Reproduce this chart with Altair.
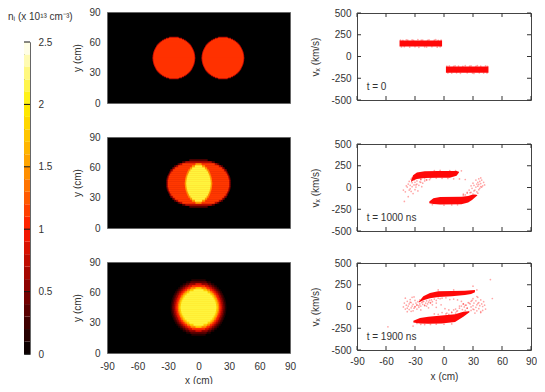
import altair as alt
import pandas as pd

FONT = "Liberation Sans"
TXT = "#333333"

# ---------- colour bar ----------
bar_edges = [0, .1, .2, .3, .4, .5, .6, .7, .8, .9, 1, 1.1, 1.2, 1.3, 1.4, 1.5, 1.6, 1.7, 1.8, 1.9, 2, 2.1, 2.2, 2.3, 2.4, 2.5]
bar_ticks = [0, .5, 1, 1.5, 2, 2.5]
stops = [0, .5, 1, 1.5, 2, 2.5]
stop_colors = ["#000000", "#800000", "#ff1800", "#ff9c00", "#fff000", "#ffffff"]
bar_title = ["nᵢ (x 10¹³ cm⁻³)"]

# ---------- density maps: half-width (cm) of each level per row offset from the centre ----------
p1_centres = [-24.2, 24.0]
p1_y0 = 44.5
p1_step = 1
p1_dy = [.5, 1.5, 2.5, 3.5, 4.5, 5.5, 6.5, 7.5, 8.5, 9.5, 10.5, 11.5, 12.5, 13.5, 14.5, 15.5, 16.5, 17.5, 18.5, 19.5, 20.5]
p1_levels = {
    0.75: [21.0, 20.9, 20.9, 20.7, 20.5, 20.3, 20.0, 19.6, 19.2, 18.7, 18.2, 17.6, 16.9, 16.1, 15.2, 14.2, 13.0, 11.6, 9.9, 7.8, 4.6],
    1.1: [20.2, 20.1, 20.0, 19.9, 19.7, 19.4, 19.1, 18.8, 18.3, 17.8, 17.3, 16.6, 15.9, 15.0, 14.1, 13.0, 11.6, 10.1, 8.1, 5.3, 0],
}
p2_centres = [0]
p2_y0 = 44
p2_step = 2
p2_dy = [1, 3, 5, 7, 9, 11, 13, 15, 17, 19, 21, 23]
p2_levels = {
    0.35: [32, 32, 31.5, 31, 30, 29, 28, 26, 24, 20.5, 16, 9],
    0.7: [31, 31, 30.5, 30, 29, 28, 26.5, 24.5, 22, 18.5, 13, 0],
    1.12: [30, 30, 29.5, 29, 28, 26.8, 25, 23, 20, 16, 0, 0],
    1.5: [13.5, 13.3, 13, 12.5, 11.8, 11, 10, 8.5, 6.5, 3, 0, 0],
    2.12: [12, 11.8, 11.5, 11, 10.2, 9.3, 8, 6.3, 3.5, 0, 0, 0],
}
p3_centres = [0]
p3_y0 = 45
p3_step = 2
p3_dy = [1, 3, 5, 7, 9, 11, 13, 15, 17, 19, 21, 23, 25, 27]
p3_levels = {
    0.15: [27.4, 27.3, 27, 26.6, 26, 25.2, 24.2, 23.1, 21.7, 20, 18, 15.5, 12, 7],
    0.35: [26, 25.8, 25.5, 25, 24.4, 23.6, 22.5, 21.3, 19.7, 17.9, 15.5, 12.5, 8, 0],
    0.6: [24.5, 24.3, 24, 23.5, 22.8, 21.9, 20.8, 19.5, 17.6, 15.6, 12.9, 9, 0, 0],
    0.85: [23, 22.8, 22.4, 21.9, 21.2, 20.2, 19, 17.5, 15.6, 13.1, 9.9, 3, 0, 0],
    1.1: [21.7, 21.5, 21.1, 20.5, 19.7, 18.7, 17.4, 15.7, 13.6, 10.8, 6.5, 0, 0, 0],
    1.45: [20.3, 20.1, 19.7, 19, 18.2, 17, 15.5, 13.7, 11.2, 7.8, 0, 0, 0, 0],
    1.8: [19, 18.8, 18.3, 17.6, 16.7, 15.4, 13.8, 11.6, 8.5, 3, 0, 0, 0, 0],
    2.12: [17.5, 17.2, 16.8, 16, 14.9, 13.6, 11.7, 9, 4.9, 0, 0, 0, 0, 0],
}

# ---------- phase space: dense bands ----------
t0_a_x = [-46, -2]
t0_a_up = [184, 184]
t0_a_lo = [114, 114]
t0_b_x = [2, 46]
t0_b_up = [-114, -114]
t0_b_lo = [-186, -186]

t1_a_x = [-34, -32, -28, -20, -6, 6, 13, 15.5]
t1_a_up = [80, 140, 172, 188, 189, 189, 189, 180]
t1_a_lo = [63, 80, 98, 110, 112, 113, 135, 172]
t1_b_x = [-15.2, -11, -4, 18, 25, 29, 32, 34.4]
t1_b_up = [-162, -124, -109, -105, -98, -82, -80, -85]
t1_b_lo = [-181, -190, -196, -192, -172, -145, -115, -92]

t2_a_x = [-26, -21.4, -14.5, -6, 8, 21.7, 28, 32]
t2_a_up = [55, 118, 156, 175, 178, 180, 188, 190]
t2_a_lo = [45, 73, 95, 108, 118, 132, 145, 165]
t2_b_x = [-31.7, -24.8, -16.2, -2.4, 11.4, 20, 25.9]
t2_b_up = [-164, -132, -118, -103, -88, -61, -55]
t2_b_lo = [-185, -195, -198, -195, -178, -118, -68]

# ---------- phase space: scattered particles ----------
t0_px = [-45, -42.5, -39, -37.5, -33, -31.5, -27, -23.5, -22, -17, -15.5, -10, -8.5, -6, -3, -44, -41, -35.5, -30, -26, -20, -18, -12.5, -7, -4,
         3, 5.5, 10, 11.5, 15, 19.5, 22, 26.5, 28, 33, 34.5, 38, 43, 45, 4, 8, 13, 17, 24, 29.5, 31, 36.5, 41, 44.5]
t0_pv = [188, 186, 192, 187, 190, 186, 194, 187, 189, 186, 191, 187, 195, 186, 188, 110, 112, 108, 112, 106, 111, 109, 112, 107, 111,
         -111, -109, -112, -107, -110, -112, -105, -111, -108, -112, -106, -111, -109, -112, -189, -191, -188, -193, -188, -190, -194, -188, -191, -189]

t1_px = [-42, -40, -39, -38, -37, -37, -36, -35, -35, -34, -34, -33, -33, -32, -31, -31, -30, -30, -29, -28, -28, -27, -26, -25, -24, -23, -22, -20, -18, -15, -41, -36, -33, -29, -24,
         42, 41, 40, 39, 39, 38, 38, 37, 37, 36, 36, 36, 35, 35, 34, 34, 33, 33, 32, 31, 30, 30, 29, 28, 27, 26, 24, 22, 20, 38, 35, 31, 28, 24,
         -20, -14, -8, -2, 4, 10, 16, 22, -12, 0, 8, 14, -10, -4, 6, 12, 18, -18, -24, 20]
t1_pv = [-30, -50, 20, 5, -105, 40, 70, -15, 25, 95, -45, 55, 10, -70, 30, 85, -25, 60, 5, 75, 40, -40, 25, 65, 90, 10, 50, 75, 85, 90, -160, -30, 110, 30, 60,
         30, 60, 20, 85, 5, 110, 45, -10, 70, 100, 35, -25, 15, 60, -50, 40, 85, 5, -30, 25, 50, -75, -10, 20, -60, -30, -65, -85, -75, 10, -65, -40, -55, -55,
         102, 105, 108, 106, 104, 100, 98, 92, -198, -203, -200, -199, 194, 196, 195, 193, 192, 90, 95, -88]

t2_px = [-42, -41, -40, -40, -39, -38, -38, -37, -36, -36, -35, -34, -34, -33, -33, -32, -32, -31, -30, -30, -29, -28, -28, -27, -26, -25, -25, -24, -23, -22, -21, -20, -19, -18, -17, -16, -15, -14, -13, -12, -10, -8, -6, -4,
         -38, -35, -31, -28, -24, -20, -16, -12, -8, -34, -30, -26, -22, -18, -14,
         43, 42, 41, 40, 40, 39, 38, 38, 37, 36, 36, 35, 34, 34, 33, 33, 32, 31, 30, 30, 29, 28, 28, 27, 26, 25, 24, 23, 22, 21, 20, 19, 18, 16, 14, 12, 10, 8, 5, 2,
         38, 35, 31, 28, 24, 20, 16, 12, 34, 30, 26, 22,
         -2, 2, 6, 10, 14, 18, -10, -6, -2, 3, 8, 13, -8, -3, 1, 5, -28, -24, -20, -14, -8, 0, 8,
         48, 50, -58, 30, 34, -32, 10, -6]
t2_pv = [-5, 40, -30, 95, 15, -60, 60, 5, -35, 30, 80, -15, 45, 105, 5, -50, 25, -20, 70, 0, 40, -30, 15, 55, -10, 30, 75, 5, 45, 25, 60, 10, 40, 65, 30, 50, 70, 45, 75, 55, 85, 70, 95, 90,
         -20, 50, 110, 20, -40, 15, -15, 20, -10, -55, -5, 10, 55, 5, 40,
         -30, 15, 55, -45, 0, 30, -60, 75, 10, -25, 45, 105, -50, 20, 65, -10, -75, 40, -30, 10, 70, -45, -5, 30, -60, 45, -20, 15, -45, -5, 30, -35, 5, -20, -50, -75, -40, -70, -90, -85,
         -70, 35, -35, 60, -20, 30, 5, -30, 115, 90, 40, 15,
         95, 100, 80, 85, 75, 60, -85, -90, -70, -75, -65, -55, 40, 20, -25, -40, -195, -205, -208, -206, -203, -204, -200,
         309, 92, -233, 233, 190, -225, 190, 190]

x_ticks = [-90, -60, -30, 0, 30, 60, 90]
map_y_ticks = [0, 30, 60, 90]
v_ticks = [-500, -250, 0, 250, 500]
labels = ["t = 0", "t = 1000 ns", "t = 1900 ns"]
label_x = [-80]
label_v = [-354, -352, -354]

MAP_W, MAP_H = 183, 91
PS_W, PS_H = 174, 87

x_scale = alt.Scale(domain=[-90, 90], nice=False, zero=False)
map_y_scale = alt.Scale(domain=[0, 90], nice=False, zero=False)
v_scale = alt.Scale(domain=[-500, 500], nice=False, zero=False)
bar_scale = alt.Scale(domain=[0, 2.5], nice=False, zero=False)
color_scale = alt.Scale(domain=stops, range=stop_colors, interpolate="rgb")


def axis_kw(values, title, pad, tpad):
    return dict(values=values, title=title, domain=False, ticks=False, grid=False, labelPadding=pad,
                titlePadding=tpad, labelExpr="'' + datum.value", labelFlush=False, labelOverlap=False,
                labelFont=FONT, titleFont=FONT, labelFontSize=10, titleFontSize=10, titleFontWeight="normal",
                labelColor=TXT, titleColor=TXT)


def map_panel(levels, dys, step, centres, y0, show_x):
    rows = []
    for lev, widths in levels.items():
        for dy, hw in zip(dys, widths):
            if hw <= 0:
                continue
            for c in centres:
                for s in (1, -1):
                    a = y0 + s * (dy - step / 2 - 0.3)
                    b = y0 + s * (dy + step / 2)
                    rows.append(dict(x0=c - hw, x1=c + hw, y0=a, y1=b, n=lev))
    xax = alt.Axis(**axis_kw(x_ticks, "x (cm)", 8, 4)) if show_x else None
    yax = alt.Axis(**axis_kw(map_y_ticks, "y (cm)", 7, 6))
    return alt.Chart(pd.DataFrame(rows)).mark_rect(strokeWidth=0).encode(
        x=alt.X("x0:Q", scale=x_scale, axis=xax),
        x2="x1:Q",
        y=alt.Y("y0:Q", scale=map_y_scale, axis=yax),
        y2="y1:Q",
        color=alt.Color("n:Q", scale=color_scale, legend=None),
    ).properties(width=MAP_W, height=MAP_H, view=alt.ViewBackground(fill="#000000", stroke="#666666"))


def band_df(xs, up, lo):
    return pd.DataFrame(dict(x=xs, up=up, lo=lo))


def phase_panel(a, b, px, pv, text, lv, show_x):
    xax = alt.Axis(**axis_kw(x_ticks, "x (cm)", 6, 5)) if show_x else None
    yax = alt.Axis(**axis_kw(v_ticks, "vₓ (km/s)", 6, 10))
    nx = alt.X("x:Q", scale=x_scale, axis=xax)
    ny = alt.Y("v:Q", scale=v_scale, axis=yax)
    points = alt.Chart(pd.DataFrame(dict(x=px, v=pv))).mark_circle(color="#ff0000", opacity=0.35, size=3).encode(x=nx, y=ny)
    layers = [points]
    for xs, up, lo in (a, b):
        layers.append(alt.Chart(band_df(xs, up, lo)).mark_area(color="#ff0000", opacity=0.97).encode(
            x=nx,
            y=alt.Y("up:Q", scale=v_scale, axis=yax),
            y2="lo:Q"))
    xt = pd.DataFrame(dict(x=x_ticks))
    vt = pd.DataFrame(dict(v=v_ticks))
    rule = dict(color="#333333", strokeWidth=1)
    layers += [
        alt.Chart(xt).mark_rule(**rule).encode(x=nx, y=alt.value(PS_H), y2=alt.value(PS_H - 4)),
        alt.Chart(xt).mark_rule(**rule).encode(x=nx, y=alt.value(0), y2=alt.value(4)),
        alt.Chart(vt).mark_rule(**rule).encode(y=ny, x=alt.value(0), x2=alt.value(4)),
        alt.Chart(vt).mark_rule(**rule).encode(y=ny, x=alt.value(PS_W), x2=alt.value(PS_W - 4)),
        alt.Chart(pd.DataFrame(dict(x=label_x, v=[lv], t=[text]))).mark_text(
            align="left", baseline="middle", font=FONT, fontSize=10, color=TXT).encode(x=nx, y=ny, text="t:N"),
    ]
    return alt.layer(*layers).properties(width=PS_W, height=PS_H, view=alt.ViewBackground(stroke="#444444", fill="#ffffff"))


def spacer(h):
    return alt.Chart(pd.DataFrame(dict(a=[0]))).mark_point(opacity=0).encode(
        x=alt.value(0), y=alt.value(0)).properties(width=1, height=h, view=alt.ViewBackground(stroke=None))


# colour bar
bar_df = pd.DataFrame(dict(a=bar_edges[:-1], b=bar_edges[1:]))
bar_df["mid"] = (bar_df.a + bar_df.b) / 2
bar_axis = alt.Axis(orient="right", **axis_kw(bar_ticks, None, 8, 0))
bar = alt.layer(
    alt.Chart(bar_df).mark_rect(strokeWidth=0).encode(
        y=alt.Y("a:Q", scale=bar_scale, axis=bar_axis),
        y2="b:Q",
        x=alt.value(0), x2=alt.value(6),
        color=alt.Color("mid:Q", scale=color_scale, legend=None)),
    alt.Chart(pd.DataFrame(dict(a=bar_ticks))).mark_rule(color="#111111", strokeWidth=1).encode(
        y=alt.Y("a:Q", scale=bar_scale, axis=bar_axis),
        x=alt.value(0), x2=alt.value(6)),
    alt.Chart(pd.DataFrame(dict(t=bar_title))).mark_text(
        align="left", baseline="middle", font=FONT, fontSize=10, color=TXT).encode(
        x=alt.value(-16), y=alt.value(-25), text="t:N"),
).properties(width=6, height=312, view=alt.ViewBackground(stroke="#666666"))

col_bar = alt.vconcat(spacer(30), bar, spacing=0, bounds="flush")
col_map = alt.vconcat(
    map_panel(p1_levels, p1_dy, p1_step, p1_centres, p1_y0, False),
    map_panel(p2_levels, p2_dy, p2_step, p2_centres, p2_y0, False),
    map_panel(p3_levels, p3_dy, p3_step, p3_centres, p3_y0, True),
    spacing=34, bounds="flush").resolve_scale(color="shared")
col_ps = alt.vconcat(
    spacer(1),
    phase_panel((t0_a_x, t0_a_up, t0_a_lo), (t0_b_x, t0_b_up, t0_b_lo), t0_px, t0_pv, labels[0], label_v[0], False),
    spacer(44),
    phase_panel((t1_a_x, t1_a_up, t1_a_lo), (t1_b_x, t1_b_up, t1_b_lo), t1_px, t1_pv, labels[1], label_v[1], False),
    spacer(32),
    phase_panel((t2_a_x, t2_a_up, t2_a_lo), (t2_b_x, t2_b_up, t2_b_lo), t2_px, t2_pv, labels[2], label_v[2], True),
    spacing=0, bounds="flush")

left = alt.hconcat(col_bar, col_map, spacing=-2, bounds="full").resolve_scale(color="independent")
chart = alt.hconcat(left, col_ps, spacing=13, bounds="full").resolve_scale(color="independent").properties(
    padding=dict(left=16, top=4, right=513, bottom=372),
    autosize=alt.AutoSizeParams(type="none"),
    background="#ffffff",
)
chart.save("out.html", embed_options={"renderer": "svg", "actions": False})
